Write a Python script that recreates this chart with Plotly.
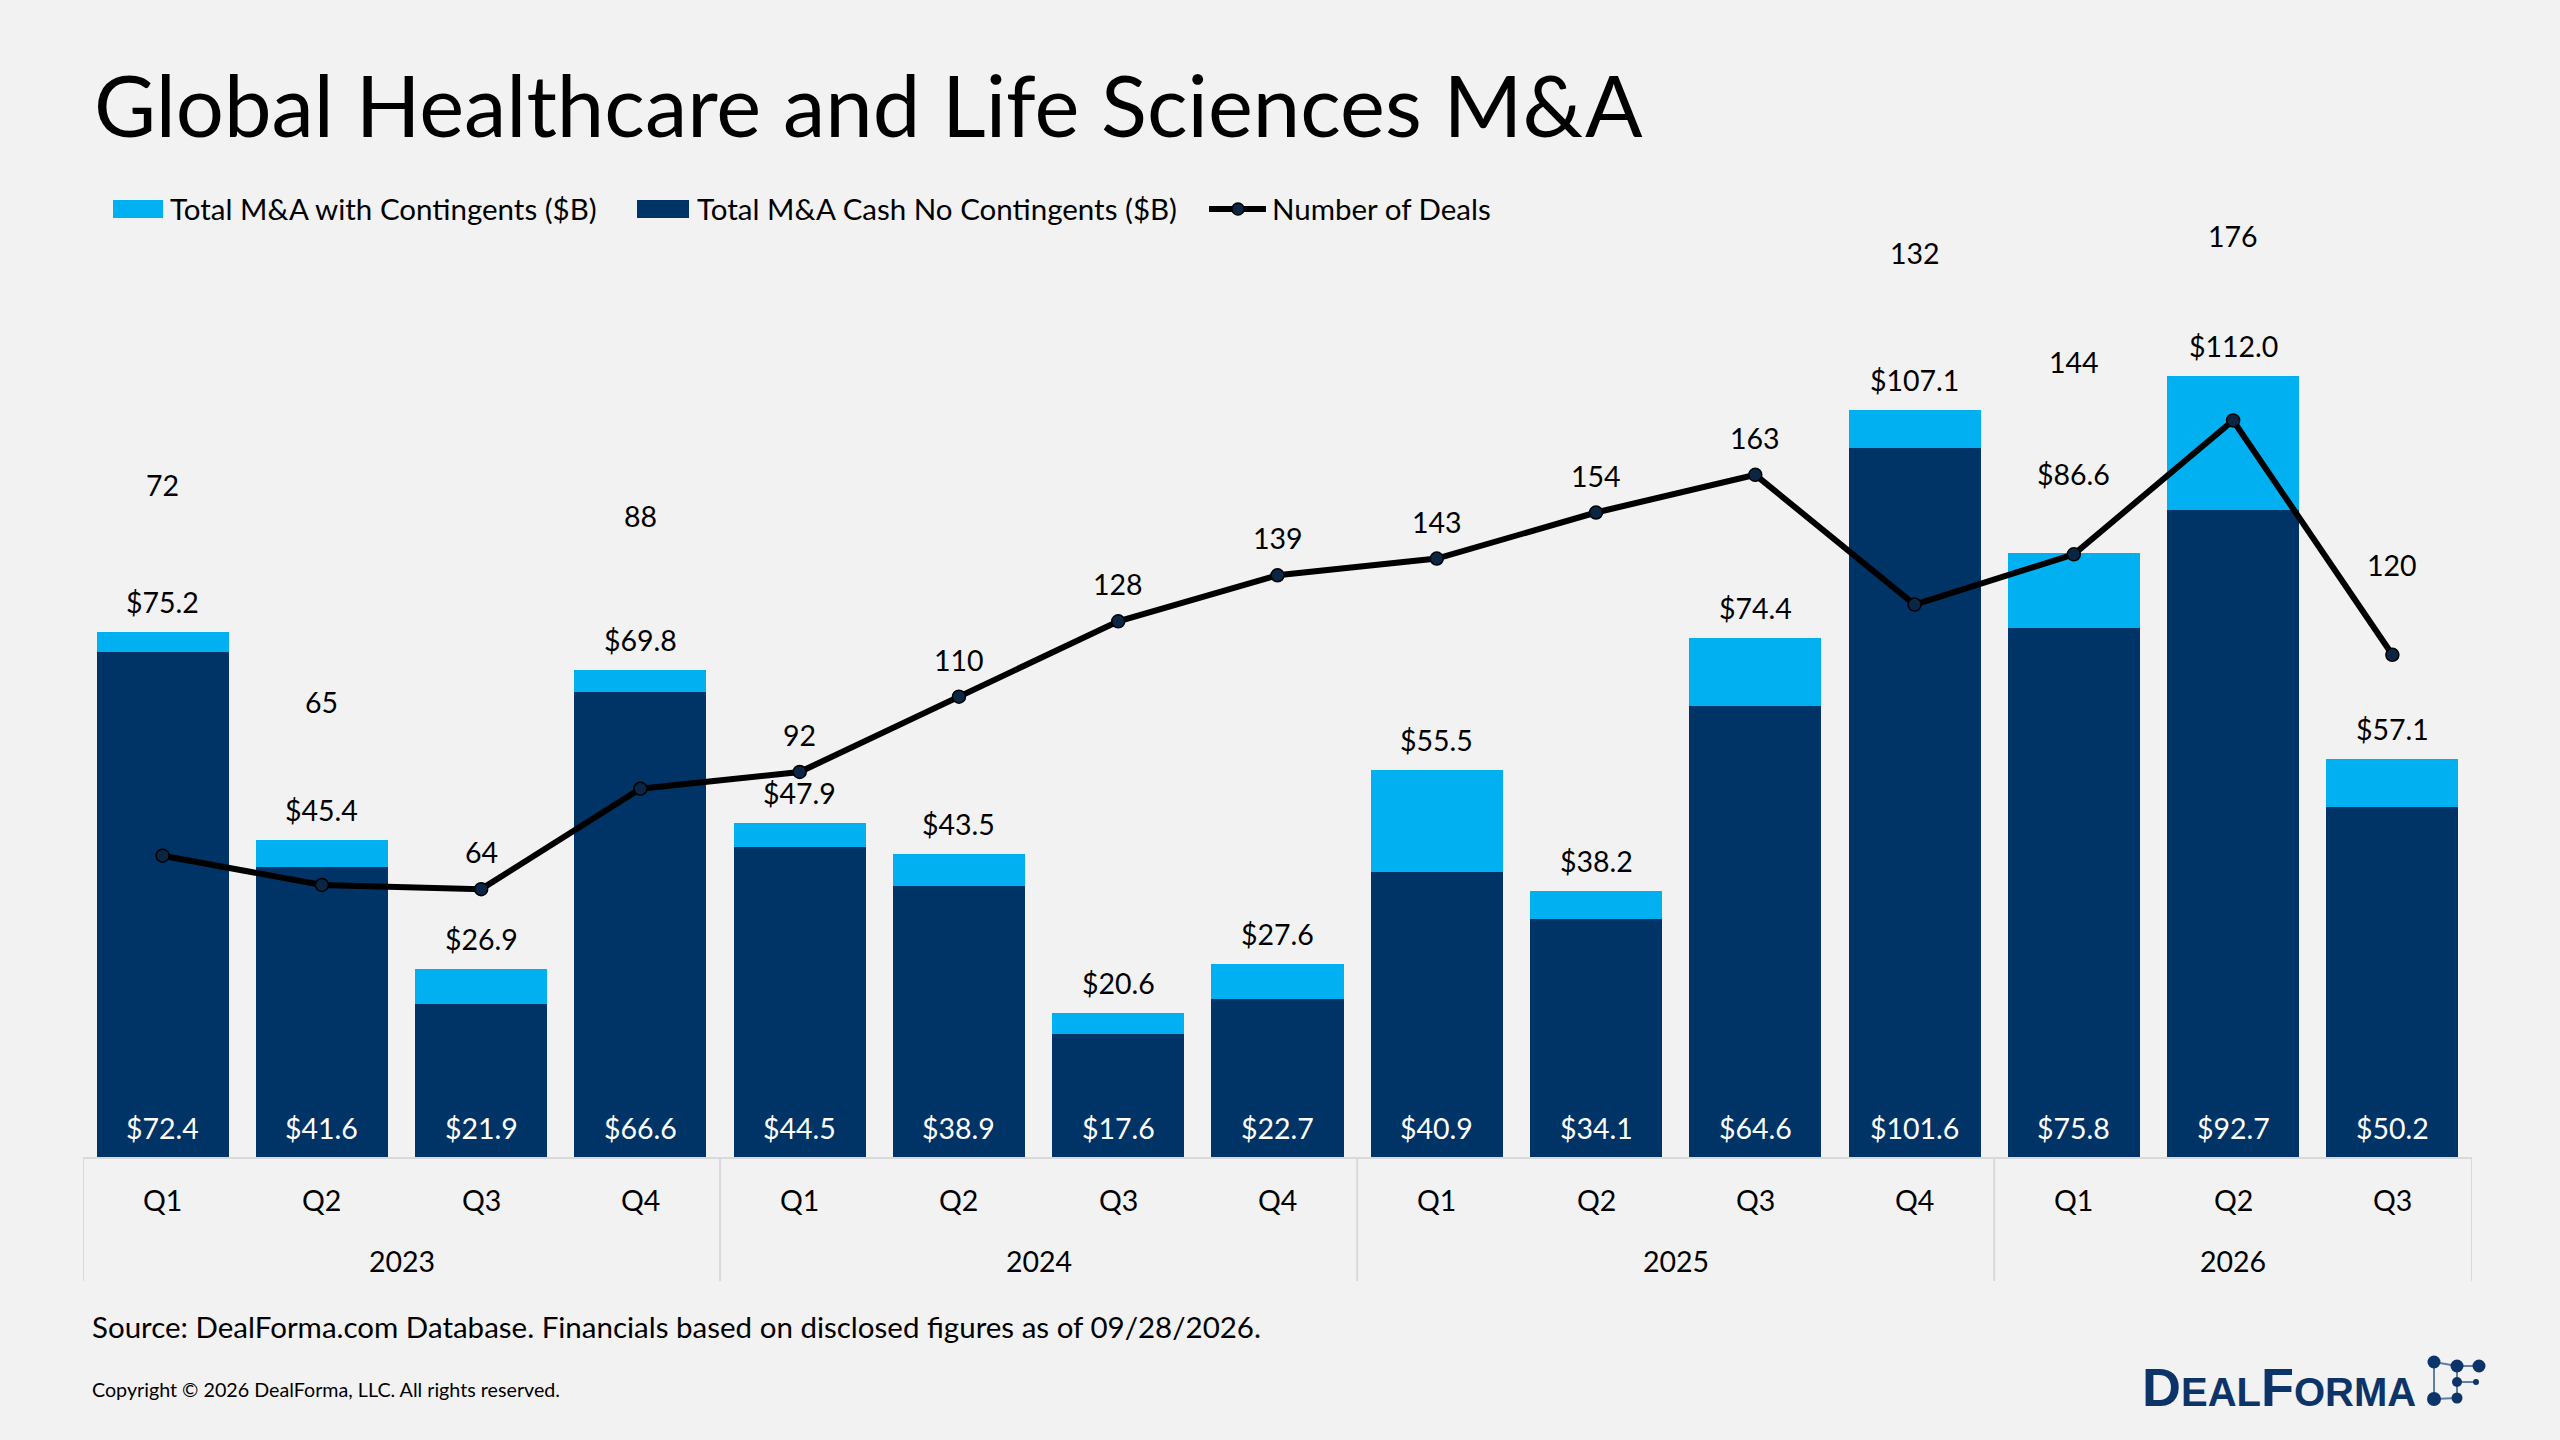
import plotly.graph_objects as go

# ---------------- data ----------------
years = ["2023"] * 4 + ["2024"] * 4 + ["2025"] * 4 + ["2026"] * 3
quarters = ["Q1", "Q2", "Q3", "Q4"] * 3 + ["Q1", "Q2", "Q3"]
total_with_contingents = [75.2, 45.4, 26.9, 69.8, 47.9, 43.5, 20.6, 27.6,
                          55.5, 38.2, 74.4, 107.1, 86.6, 112.0, 57.1]
cash_no_contingents = [72.4, 41.6, 21.9, 66.6, 44.5, 38.9, 17.6, 22.7,
                       40.9, 34.1, 64.6, 101.6, 75.8, 92.7, 50.2]
number_of_deals = [72, 65, 64, 88, 92, 110, 128, 139, 143, 154, 163, 132, 144, 176, 120]
year_groups = ["2023", "2024", "2025", "2026"]

# label pixel offsets (styling only)
deal_label_shift = [371, 183, 37, 273, 37, 37, 37, 37, 37, 37, 37, 352, 192, 184, 90]
total_label_shift = [30, 30, 30, 30, 30, 30, 30, 30, 30, 30, 30, 30, 79, 30, 30]

# ---------------- styling ----------------
W, H = 2560, 1440
ML, MR, MT, MB = 83, 88, 320, 283
PW, PH = W - ML - MR, H - MT - MB
LIGHT = "#00B0F0"
DARK = "#003366"
BG = "#F2F2F2"
GRID = "#D9D9D9"
FONT = "Lato"
LBL = 28.5


def px2x(px):
    return (px - ML) / PW


def py2y(py):
    return (H - MB - py) / PH


cats = [f"{y} {q}" for y, q in zip(years, quarters)]
contingent_part = [round(t - c, 1) for t, c in zip(total_with_contingents, cash_no_contingents)]

fig = go.Figure()
fig.add_trace(go.Bar(x=cats, y=cash_no_contingents, name="Total M&A Cash No Contingents ($B)",
                     marker=dict(color=DARK, line=dict(width=0)), yaxis="y"))
fig.add_trace(go.Bar(x=cats, y=contingent_part, name="Total M&A with Contingents ($B)",
                     marker=dict(color=LIGHT, line=dict(width=0)), yaxis="y"))
fig.add_trace(go.Scatter(x=cats, y=number_of_deals, name="Number of Deals", mode="lines+markers",
                         line=dict(color="black", width=6),
                         marker=dict(size=13, color="#0B2545", line=dict(color="black", width=1.5)),
                         yaxis="y2"))

ann = []
shapes = []

# bar labels
for c, t, v, s in zip(cats, total_with_contingents, cash_no_contingents, total_label_shift):
    ann.append(dict(x=c, y=t, xref="x", yref="y", text=f"${t:.1f}", showarrow=False,
                    yanchor="middle", yshift=s, font=dict(size=LBL, color="black", family=FONT)))
    ann.append(dict(x=c, y=0, xref="x", yref="y", text=f"${v:.1f}", showarrow=False,
                    yanchor="middle", yshift=29, font=dict(size=LBL, color="white", family=FONT)))
# deal labels
for c, d, s in zip(cats, number_of_deals, deal_label_shift):
    ann.append(dict(x=c, y=d, xref="x", yref="y2", text=str(d), showarrow=False,
                    yanchor="middle", yshift=s, font=dict(size=LBL, color="black", family=FONT)))

# category axis labels (quarters, years)
for i, q in enumerate(quarters):
    ann.append(dict(x=i, y=0, xref="x", yref="paper", text=q, showarrow=False,
                    yanchor="middle", yshift=-43, font=dict(size=LBL, color="black", family=FONT)))
bounds = [-0.5]
for yg in year_groups:
    idx = [i for i, y in enumerate(years) if y == yg]
    ann.append(dict(x=(idx[0] + idx[-1]) / 2, y=0, xref="x", yref="paper", text=yg, showarrow=False,
                    yanchor="middle", yshift=-104, font=dict(size=LBL, color="black", family=FONT)))
    bounds.append(idx[-1] + 0.5)
for b in bounds:
    shapes.append(dict(type="line", xref="x", yref="paper", x0=b, x1=b, y0=0, y1=py2y(1281),
                       line=dict(color=GRID, width=2)))

# title
ann.append(dict(xref="paper", yref="paper", x=px2x(92), y=py2y(104), xanchor="left", yanchor="middle",
                text="Global Healthcare and Life Sciences M&A", showarrow=False,
                font=dict(size=85, color="black", family=FONT)))

# custom legend
LY = 209
LF = 29.5
shapes.append(dict(type="rect", xref="paper", yref="paper", x0=px2x(113), x1=px2x(163),
                   y0=py2y(218), y1=py2y(200), fillcolor=LIGHT, line=dict(width=0)))
ann.append(dict(xref="paper", yref="paper", x=px2x(168), y=py2y(LY), xanchor="left", yanchor="middle",
                text="Total M&A with Contingents ($B)", showarrow=False,
                font=dict(size=LF, color="black", family=FONT)))
shapes.append(dict(type="rect", xref="paper", yref="paper", x0=px2x(637), x1=px2x(689),
                   y0=py2y(218), y1=py2y(200), fillcolor=DARK, line=dict(width=0)))
ann.append(dict(xref="paper", yref="paper", x=px2x(695), y=py2y(LY), xanchor="left", yanchor="middle",
                text="Total M&A Cash No Contingents ($B)", showarrow=False,
                font=dict(size=LF, color="black", family=FONT)))
shapes.append(dict(type="line", xref="paper", yref="paper", x0=px2x(1209), x1=px2x(1266),
                   y0=py2y(LY), y1=py2y(LY), line=dict(color="black", width=6)))
shapes.append(dict(type="circle", xref="paper", yref="paper", x0=px2x(1232), x1=px2x(1244),
                   y0=py2y(LY + 6), y1=py2y(LY - 6), fillcolor="#0B2545", line=dict(color="black", width=1.5)))
ann.append(dict(xref="paper", yref="paper", x=px2x(1270), y=py2y(LY), xanchor="left", yanchor="middle",
                text="Number of Deals", showarrow=False,
                font=dict(size=LF, color="black", family=FONT)))

# footnotes
ann.append(dict(xref="paper", yref="paper", x=px2x(90), y=py2y(1326), xanchor="left", yanchor="middle",
                text="Source: DealForma.com Database. Financials based on disclosed figures as of 09/28/2026.",
                showarrow=False, font=dict(size=29.5, color="black", family=FONT)))
ann.append(dict(xref="paper", yref="paper", x=px2x(90), y=py2y(1389), xanchor="left", yanchor="middle",
                text="Copyright \u00a9 2026 DealForma, LLC. All rights reserved.",
                showarrow=False, font=dict(size=19.7, color="black", family=FONT)))

# logo
LOGO = "#0D3468"
ann.append(dict(xref="paper", yref="paper", x=px2x(2140), y=py2y(1387), xanchor="left", yanchor="middle",
                text="<b>D<span style='font-size:40px'>EAL</span>F<span style='font-size:40px'>ORMA</span></b>",
                showarrow=False, font=dict(size=54, color=LOGO, family="Liberation Sans")))
links = [((2434, 1362), (2457, 1366)), ((2457, 1366), (2479, 1366)), ((2434, 1362), (2434, 1399)),
         ((2457, 1366), (2457, 1398)), ((2457, 1382), (2476, 1382)), ((2434, 1399), (2457, 1398))]
for (ax, ay), (bx, by) in links:
    shapes.append(dict(type="line", xref="paper", yref="paper", x0=px2x(ax), x1=px2x(bx),
                       y0=py2y(ay), y1=py2y(by), line=dict(color="#5E7FA8", width=2)))
dots = [(2434, 1362, 6.5), (2457, 1366, 6.5), (2479, 1366, 6.5), (2457, 1382, 5),
        (2476, 1382, 3), (2434, 1399, 7), (2457, 1398, 5.5)]
for cx, cy, r in dots:
    shapes.append(dict(type="circle", xref="paper", yref="paper", x0=px2x(cx - r), x1=px2x(cx + r),
                       y0=py2y(cy + r), y1=py2y(cy - r), fillcolor=LOGO, line=dict(width=0)))

fig.update_layout(
    width=W, height=H,
    margin=dict(l=ML, r=MR, t=MT, b=MB, pad=0),
    paper_bgcolor=BG, plot_bgcolor=BG,
    barmode="stack", bargap=0.171,
    showlegend=False,
    font=dict(family=FONT, size=28, color="black"),
    xaxis=dict(type="category", range=[-0.5, 14.5], showticklabels=False, showgrid=False,
               zeroline=False, showline=True, linecolor=GRID, linewidth=2, ticks=""),
    yaxis=dict(range=[0, 120], visible=False, showgrid=False, zeroline=False),
    yaxis2=dict(range=[0, 200], overlaying="y", visible=False, showgrid=False, zeroline=False),
    annotations=ann,
    shapes=shapes,
)

fig.write_html("out.html")
